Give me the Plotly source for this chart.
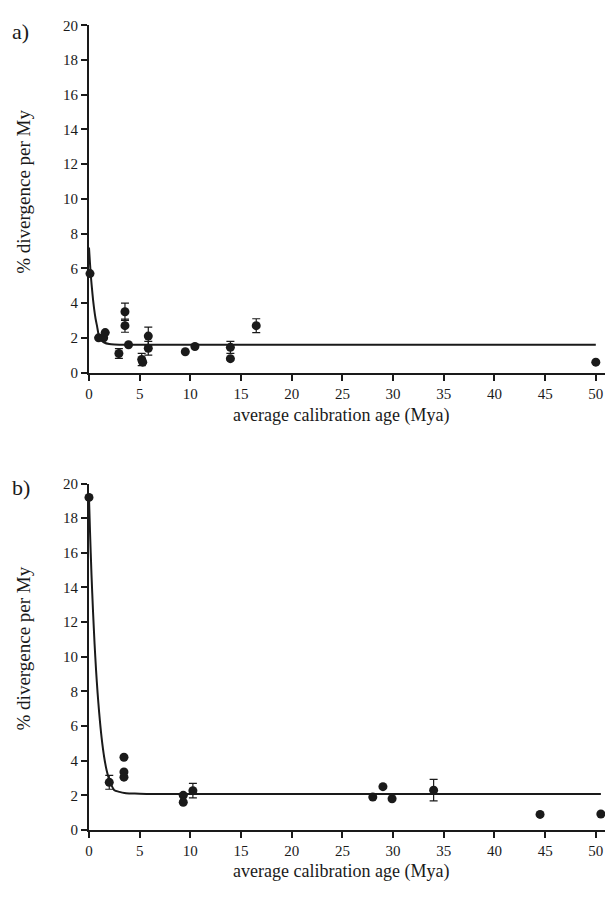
import plotly.graph_objects as go

# ---------- Panel a data ----------
a_age = [0.1, 0.95, 1.45, 1.6, 2.95, 3.55, 3.55, 3.9, 5.2, 5.3, 5.85, 5.85, 9.5, 10.45, 13.95, 13.95, 16.5, 50.0]
a_rate = [5.7, 2.0, 2.0, 2.3, 1.1, 3.5, 2.7, 1.6, 0.75, 0.6, 2.1, 1.4, 1.2, 1.5, 1.45, 0.8, 2.7, 0.6]
a_err = [0, 0, 0, 0, 0.28, 0.5, 0.38, 0, 0.35, 0, 0.52, 0.4, 0, 0, 0.35, 0, 0.4, 0]
a_fit_x = [0, 0.1, 0.2, 0.3, 0.4, 0.5, 0.65, 0.8, 1.0, 1.25, 1.5, 2.0, 2.5, 3.0, 4.0, 5.0, 50.0]
a_fit_y = [7.2, 6.28, 5.45, 4.8, 4.2, 3.7, 3.1, 2.66, 2.06, 1.84, 1.73, 1.64, 1.61, 1.6, 1.6, 1.6, 1.6]

# ---------- Panel b data ----------
b_age = [0.0, 2.0, 3.45, 3.45, 3.45, 9.3, 9.3, 10.25, 28.0, 29.0, 29.9, 34.0, 44.5, 50.5]
b_rate = [19.2, 2.75, 4.2, 3.35, 3.05, 2.0, 1.6, 2.27, 1.9, 2.5, 1.8, 2.3, 0.9, 0.92]
b_err = [0, 0.4, 0, 0, 0, 0, 0, 0.42, 0, 0, 0, 0.62, 0, 0]
b_fit_x = [0, 0.1, 0.25, 0.4, 0.55, 0.7, 0.85, 1.0, 1.25, 1.5, 1.75, 2.0, 2.5, 3.0, 3.5, 4.0, 5.0, 6.0, 50.5]
b_fit_y = [19.2, 17.25, 14.7, 12.6, 10.75, 9.2, 7.9, 6.8, 5.3, 4.2, 3.42, 2.9, 2.3, 2.2, 2.13, 2.11, 2.09, 2.08, 2.08]

x_ticks = [0, 5, 10, 15, 20, 25, 30, 35, 40, 45, 50]
y_ticks = [0, 2, 4, 6, 8, 10, 12, 14, 16, 18, 20]
x_title = "average calibration age (Mya)"
y_title = "% divergence per My"
panel_labels = ["a)", "b)"]

OFF = 8  # page body margin
W, H = 613 - OFF, 908 - OFF
INK = "#1a1a1a"
FONT = "Liberation Serif, DejaVu Serif, Times New Roman, serif"

def px(p):
    return (p - OFF) / W

def py(p):
    return 1 - (p - OFF) / H

fig = go.Figure()

def add_panel(age, rate, err, fx, fy, xa, ya):
    fig.add_trace(go.Scatter(x=fx, y=fy, mode="lines", line=dict(color=INK, width=2, shape="spline", smoothing=0.6),
                             xaxis=xa, yaxis=ya, showlegend=False, hoverinfo="skip"))
    fig.add_trace(go.Scatter(x=age, y=rate, mode="markers",
                             marker=dict(color=INK, size=9),
                             error_y=dict(type="data", array=err, visible=True, color=INK, thickness=1.2, width=4),
                             xaxis=xa, yaxis=ya, showlegend=False, cliponaxis=False))

add_panel(a_age, a_rate, a_err, a_fit_x, a_fit_y, "x", "y")
add_panel(b_age, b_rate, b_err, b_fit_x, b_fit_y, "x2", "y2")

xdom = [px(85.5), px(611)]
ydom_a = [py(371), py(17.5)]
ydom_b = [py(836.7), py(484)]

axis_common = dict(showgrid=False, zeroline=False, showline=True, linecolor=INK, linewidth=2,
                   ticks="outside", ticklen=6, tickwidth=2, tickcolor=INK,
                   tickfont=dict(family=FONT, size=15, color=INK))

fig.update_layout(
    width=W, height=H, plot_bgcolor="white", paper_bgcolor="white",
    font=dict(family=FONT, color=INK),
    margin=dict(l=0, r=0, t=0, b=0),
    xaxis=dict(domain=xdom, range=[0, 51.5], tickvals=x_ticks, anchor="y", **axis_common),
    yaxis=dict(domain=ydom_a, range=[0, 20], tickvals=y_ticks, anchor="x", **axis_common),
    xaxis2=dict(domain=xdom, range=[0, 51.5], tickvals=x_ticks, anchor="y2", **axis_common),
    yaxis2=dict(domain=ydom_b, range=[0, 20], tickvals=y_ticks, anchor="x2", **axis_common),
)

ann = []
for (lab, ty, yc, ly) in [(panel_labels[0], 415, 187, 24), (panel_labels[1], 879, 652, 488)]:
    ann.append(dict(x=px(339), y=py(ty), xref="paper", yref="paper",
                    text=x_title, showarrow=False, font=dict(family=FONT, size=18, color=INK),
                    xanchor="center", yanchor="middle"))
    ann.append(dict(x=px(20), y=py(yc), xref="paper", yref="paper",
                    text=y_title, showarrow=False, textangle=-90, font=dict(family=FONT, size=19, color=INK),
                    xanchor="center", yanchor="middle"))
    ann.append(dict(x=px(6), y=py(ly), xref="paper", yref="paper",
                    text=lab, showarrow=False, font=dict(family=FONT, size=22, color=INK),
                    xanchor="left", yanchor="middle"))
fig.update_layout(annotations=ann)

fig.write_html("out.html")
